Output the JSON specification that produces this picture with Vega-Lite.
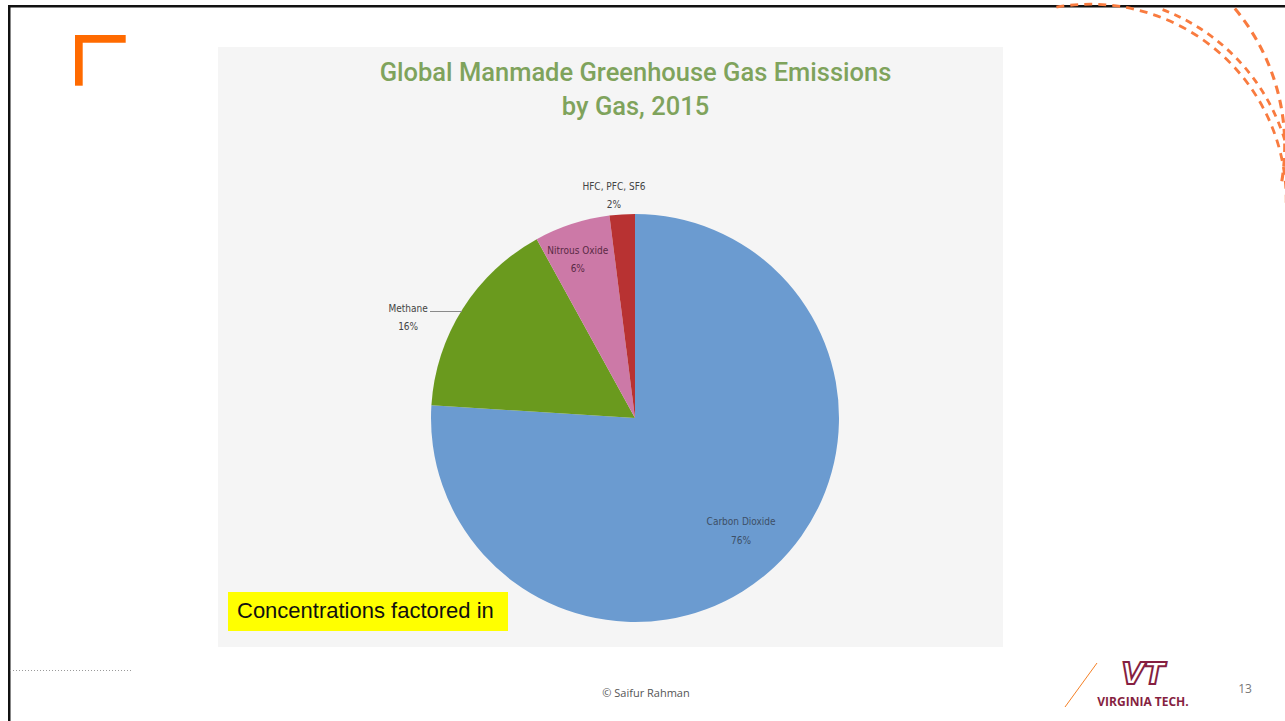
{
  "$schema": "https://vega.github.io/schema/vega-lite/v6.json",
  "autosize": {"type": "none"},
  "width": 785,
  "height": 600,
  "padding": {"left": 218, "top": 47, "right": 282, "bottom": 74},
  "background": "#ffffff",
  "view": {"fill": "#f5f5f5", "stroke": null},
  "config": {"view": {"fill": "#f5f5f5", "stroke": null}},
  "title": {
    "text": ["Global Manmade Greenhouse Gas Emissions", "by Gas, 2015"],
    "font": "Roboto",
    "fontSize": 25.5,
    "fontWeight": 500,
    "color": "#7fa35c",
    "lineHeight": 34,
    "anchor": "middle",
    "frame": "group",
    "dx": 25,
    "offset": -118
  },
  "datasets": {
    "gases": [
      {"gas": "Carbon Dioxide", "pct": 76, "order": 1},
      {"gas": "Methane", "pct": 16, "order": 2},
      {"gas": "Nitrous Oxide", "pct": 6, "order": 3},
      {"gas": "HFC, PFC, SF6", "pct": 2, "order": 4}
    ],
    "dashes": [
      {"k": 1, "v": 1}, {"k": 2, "v": 1}, {"k": 3, "v": 1}, {"k": 4, "v": 1}, {"k": 5, "v": 1},
      {"k": 6, "v": 1}, {"k": 7, "v": 1}, {"k": 8, "v": 1}, {"k": 9, "v": 1}, {"k": 10, "v": 1},
      {"k": 11, "v": 1}, {"k": 12, "v": 1}, {"k": 13, "v": 1}, {"k": 14, "v": 1}, {"k": 15, "v": 1},
      {"k": 16, "v": 1}, {"k": 17, "v": 1}, {"k": 18, "v": 1}, {"k": 19, "v": 1}, {"k": 20, "v": 1},
      {"k": 21, "v": 1}, {"k": 22, "v": 1}, {"k": 23, "v": 1}, {"k": 24, "v": 1}, {"k": 25, "v": 1}
    ],
    "notes": [{"note": "Concentrations factored in", "footer": "© Saifur Rahman", "page": "13", "org": "VIRGINIA TECH.", "logo": "VT"}]
  },
  "resolve": {"scale": {"theta": "independent", "color": "independent"}},
  "layer": [
    {
      "data": {"name": "notes"},
      "mark": {"type": "rect", "x": -210, "x2": 1067, "y": -42, "y2": -39.5, "fill": "#111111"},
      "encoding": {}
    },
    {
      "data": {"name": "notes"},
      "mark": {"type": "rect", "x": -210, "x2": -207.5, "y": -42, "y2": 674, "fill": "#111111"},
      "encoding": {}
    },
    {
      "data": {"name": "notes"},
      "mark": {"type": "rect", "x": -143, "x2": -135.3, "y": -12, "y2": 38.7, "fill": "#ff6a00"},
      "encoding": {}
    },
    {
      "data": {"name": "notes"},
      "mark": {"type": "rect", "x": -143, "x2": -92.3, "y": -12, "y2": -4.3, "fill": "#ff6a00"},
      "encoding": {}
    },
    {
      "data": {"name": "dashes"},
      "mark": {"type": "arc", "x": 872.4, "y": 153, "outerRadius": 197.2, "innerRadius": 194.4, "padAngle": 0.022, "fill": "#f97b3f"},
      "encoding": {
        "theta": {"field": "v", "type": "quantitative", "stack": true, "scale": {"range": [-0.19, 1.6]}}
      }
    },
    {
      "data": {"name": "dashes"},
      "transform": [{"filter": "datum.k <= 20"}],
      "mark": {"type": "arc", "x": 872, "y": 153, "outerRadius": 205.2, "innerRadius": 202.4, "padAngle": 0.02, "fill": "#f97b3f"},
      "encoding": {
        "theta": {"field": "v", "type": "quantitative", "stack": true, "scale": {"range": [0.35, 1.6]}}
      }
    },
    {
      "data": {"name": "dashes"},
      "transform": [{"filter": "datum.k <= 13"}],
      "mark": {"type": "arc", "x": 852.6, "y": 99, "outerRadius": 215.7, "innerRadius": 212.6, "padAngle": 0.02, "fill": "#f97b3f"},
      "encoding": {
        "theta": {"field": "v", "type": "quantitative", "stack": true, "scale": {"range": [0.86, 1.75]}}
      }
    },
    {
      "data": {"name": "gases"},
      "transform": [
        {"stack": "pct", "groupby": [], "sort": [{"field": "order", "order": "ascending"}], "as": ["t0", "t1"]},
        {"calculate": "(datum.t0 + datum.t1) / 2", "as": "mid"},
        {"calculate": "datum.gas + '\\n' + datum.pct + '%'", "as": "label"}
      ],
      "layer": [
        {
          "mark": {"type": "arc", "outerRadius": 204, "xOffset": 24.5, "yOffset": 71, "stroke": null},
          "encoding": {
            "theta": {"field": "t0", "type": "quantitative", "scale": {"domain": [0, 100]}},
            "theta2": {"field": "t1"},
            "color": {
              "field": "gas",
              "type": "nominal",
              "scale": {
                "domain": ["Carbon Dioxide", "Methane", "Nitrous Oxide", "HFC, PFC, SF6"],
                "range": ["#6b9bd0", "#6a9a1e", "#cc79a7", "#b83232"]
              },
              "legend": null
            }
          }
        },
        {
          "transform": [{"filter": "datum.gas == 'Carbon Dioxide'"}],
          "mark": {"type": "text", "radius": 155, "xOffset": 24.5, "yOffset": 71, "dy": -9, "lineBreak": "\n", "font": "Liberation Sans Narrow, DejaVu Sans Condensed, Arial Narrow", "fontSize": 10, "color": "#3d4f66", "lineHeight": 19},
          "encoding": {
            "theta": {"field": "mid", "type": "quantitative", "scale": {"domain": [0, 100]}},
            "text": {"field": "label", "type": "nominal"}
          }
        },
        {
          "transform": [{"filter": "datum.gas == 'Nitrous Oxide'"}],
          "mark": {"type": "text", "radius": 169, "xOffset": 24.5, "yOffset": 71, "dx": -5, "dy": -6, "lineBreak": "\n", "font": "Liberation Sans Narrow, DejaVu Sans Condensed, Arial Narrow", "fontSize": 10, "color": "#5a2a45", "lineHeight": 18},
          "encoding": {
            "theta": {"field": "mid", "type": "quantitative", "scale": {"domain": [0, 100]}},
            "text": {"field": "label", "type": "nominal"}
          }
        },
        {
          "transform": [{"filter": "datum.gas == 'Methane'"}],
          "mark": {"type": "text", "radius": 245, "xOffset": 24.5, "yOffset": 71, "dx": -20, "dy": 22, "lineBreak": "\n", "font": "Liberation Sans Narrow, DejaVu Sans Condensed, Arial Narrow", "fontSize": 10, "color": "#444444", "lineHeight": 18},
          "encoding": {
            "theta": {"field": "mid", "type": "quantitative", "scale": {"domain": [0, 100]}},
            "text": {"field": "label", "type": "nominal"}
          }
        },
        {
          "transform": [{"filter": "datum.gas == 'HFC, PFC, SF6'"}],
          "mark": {"type": "text", "radius": 223, "xOffset": 24.5, "yOffset": 71, "dx": -7, "dy": -8, "lineBreak": "\n", "font": "Liberation Sans Narrow, DejaVu Sans Condensed, Arial Narrow", "fontSize": 10, "color": "#444444", "lineHeight": 18},
          "encoding": {
            "theta": {"field": "mid", "type": "quantitative", "scale": {"domain": [0, 100]}},
            "text": {"field": "label", "type": "nominal"}
          }
        }
      ]
    },
    {
      "data": {"name": "notes"},
      "mark": {"type": "rule", "stroke": "#8a8a8a", "strokeWidth": 1},
      "encoding": {"x": {"value": 212}, "x2": {"value": 244}, "y": {"value": 264.5}, "y2": {"value": 264.5}}
    },
    {
      "data": {"name": "notes"},
      "mark": {"type": "rect", "x": 10, "x2": 290, "y": 545, "y2": 584, "fill": "#ffff00"},
      "encoding": {}
    },
    {
      "data": {"name": "notes"},
      "mark": {"type": "text", "x": 19, "y": 564, "align": "left", "baseline": "middle", "font": "Liberation Sans", "fontSize": 22, "color": "#111111"},
      "encoding": {"text": {"field": "note", "type": "nominal"}}
    },
    {
      "data": {"name": "notes"},
      "mark": {"type": "rule", "stroke": "#9a9a9a", "strokeWidth": 1, "strokeDash": [1, 2]},
      "encoding": {"x": {"value": -208}, "x2": {"value": -86}, "y": {"value": 623.5}, "y2": {"value": 623.5}}
    },
    {
      "data": {"name": "notes"},
      "mark": {"type": "text", "x": 428, "y": 647, "align": "center", "baseline": "middle", "font": "Open Sans", "fontSize": 11, "color": "#555555"},
      "encoding": {"text": {"field": "footer", "type": "nominal"}}
    },
    {
      "data": {"name": "notes"},
      "mark": {"type": "text", "x": 1027, "y": 642, "align": "center", "baseline": "middle", "font": "Open Sans", "fontSize": 12, "color": "#777777"},
      "encoding": {"text": {"field": "page", "type": "nominal"}}
    },
    {
      "data": {"name": "notes"},
      "mark": {"type": "rule", "stroke": "#f58025", "strokeWidth": 1},
      "encoding": {"x": {"value": 847}, "x2": {"value": 879}, "y": {"value": 660}, "y2": {"value": 616}}
    },
    {
      "data": {"name": "notes"},
      "mark": {"type": "text", "x": 925, "y": 628, "align": "center", "baseline": "middle", "font": "DejaVu Sans", "fontWeight": "bold", "fontStyle": "italic", "fontSize": 30, "fill": "#ffffff", "stroke": "#861f41", "strokeWidth": 2},
      "encoding": {"text": {"field": "logo", "type": "nominal"}}
    },
    {
      "data": {"name": "notes"},
      "mark": {"type": "text", "x": 925, "y": 655, "align": "center", "baseline": "middle", "font": "Open Sans", "fontWeight": "bold", "fontSize": 12, "color": "#861f41"},
      "encoding": {"text": {"field": "org", "type": "nominal"}}
    }
  ]
}
